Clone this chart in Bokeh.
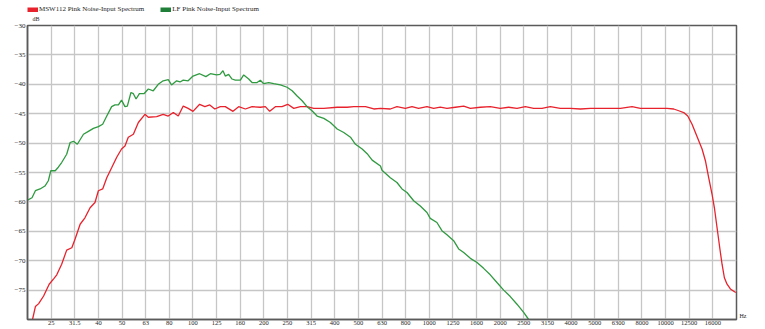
from bokeh.plotting import figure
from bokeh.layouts import column, row
from bokeh.models import Range1d, FixedTicker, Legend, LegendItem, Label
from bokeh.embed import file_html
from bokeh.resources import INLINE

# ---- data ----
series_names = ["MSW112 Pink Noise-Input Spectrum", "LF Pink Noise-Input Spectrum"]

red_freq = [21.0, 21.6, 22.3, 23.4, 24.7, 25.9, 26.6, 27.9, 29.3, 30.8, 31.8, 33.4, 35.0, 36.8,
            38.6, 39.9, 41.6, 43.3, 45.4, 47.7, 50.0, 51.7, 53.4, 56.1, 58.9, 62.8, 64.9, 70.4,
            75.0, 78.8, 82.8, 86.9, 91.2, 95.7, 100.3, 107, 112.6, 118.1, 124, 130.9, 137.4,
            148.1, 156.5, 167.1, 178.3, 193.3, 203, 211.8, 223.8, 238.8, 252.4, 267.8, 285.6,
            304.8, 325.4, 358.8, 408.6, 450.4, 480.6, 538.6, 584, 623, 685.8, 731.6, 793.8,
            847.2, 903.6, 980, 1046, 1116, 1191, 1292, 1402, 1496, 1648, 1816, 2003, 2172,
            2356, 2556, 2772, 3006, 3260, 3594, 3964, 4370, 4818, 5312, 5856, 6456, 7230,
            7842, 8646, 9528, 10168, 10850, 11392, 11962, 12438, 12972, 13400, 13842, 14300,
            14772, 15258, 15762, 16126, 16550, 16986, 17374, 17774, 18242, 18846, 19468, 19854]
red_db = [-80.0, -77.8, -77.3, -76.0, -74.0, -73.0, -72.4, -70.6, -68.2, -67.8, -66.3, -63.8,
          -62.7, -61.0, -60.1, -58.1, -57.8, -55.9, -54.2, -52.4, -51.0, -50.5, -49.0, -48.5,
          -46.5, -45.1, -45.6, -45.5, -45.1, -45.4, -44.8, -45.4, -43.7, -44.1, -44.6, -43.4,
          -43.8, -43.5, -44.2, -43.8, -43.8, -44.6, -43.8, -44.2, -43.8, -43.9, -43.8, -44.6,
          -43.8, -43.8, -43.4, -44.1, -43.8, -43.8, -44.1, -44.1, -43.9, -43.9, -43.8, -43.8,
          -44.2, -44.1, -44.2, -43.8, -44.1, -43.8, -44.1, -43.8, -44.1, -43.9, -44.1, -43.9,
          -43.7, -44.1, -43.9, -43.8, -44.1, -43.9, -44.1, -43.8, -44.1, -44.1, -43.8, -44.1,
          -44.1, -44.2, -44.1, -44.1, -44.1, -44.1, -43.8, -44.1, -44.1, -44.1, -44.1, -44.2,
          -44.5, -44.8, -45.4, -46.8, -48.2, -49.6, -51.0, -53.0, -55.9, -58.7, -61.0, -64.4,
          -67.8, -70.6, -72.9, -74.0, -74.8, -75.2, -75.4]

green_freq = [20.0, 20.9, 21.6, 22.6, 23.7, 24.5, 25.1, 26.2, 27.0, 27.9, 29.3, 30.3, 31.3, 32.5,
              34.5, 36.2, 38.0, 39.9, 41.6, 43.3, 45.4, 46.9, 48.5, 50.0, 51.7, 52.9, 54.8, 56.1,
              57.6, 59.5, 62.2, 64.9, 68.1, 71.5, 75.0, 78.8, 81.4, 85.5, 88.4, 91.2, 95.7,
              100.3, 107, 113.7, 118.8, 126.2, 130.4, 134.3, 137.4, 141.9, 146.7, 151.5, 159.1,
              164.4, 172.6, 178.3, 187.2, 193.3, 199.7, 209.7, 220.2, 235, 250.8, 263.5, 276.6,
              290.4, 304.8, 319.8, 336, 358.8, 382.6, 408.6, 435.8, 465.2, 488.4, 521.2, 547.2,
              574.6, 623, 632.5, 685.8, 731.6, 768.4, 806.8, 861, 918.4, 980, 1012, 1080, 1134,
              1191, 1271, 1335, 1402, 1496, 1596, 1702, 1816, 1938, 2070, 2208, 2356, 2514, 2640]
green_db = [-59.7, -59.3, -58.1, -57.8, -57.3, -56.4, -54.7, -54.7, -54.1, -53.3, -51.9, -49.9,
            -49.7, -50.2, -48.5, -48.0, -47.5, -47.2, -46.8, -45.4, -43.8, -43.5, -43.5, -42.7,
            -43.8, -43.7, -41.4, -41.6, -42.5, -41.6, -41.6, -40.8, -41.1, -40.0, -39.4, -39.2,
            -40.1, -39.4, -39.6, -39.3, -39.4, -38.6, -38.2, -38.7, -38.2, -38.4, -38.3, -37.7,
            -38.6, -38.3, -39.1, -39.3, -39.3, -38.4, -39.1, -39.7, -39.7, -39.3, -39.9, -39.7,
            -39.9, -40.1, -40.5, -41.1, -42.0, -42.8, -43.8, -44.5, -45.4, -45.8, -46.5, -47.6,
            -48.2, -49.0, -50.2, -51.0, -51.8, -52.9, -53.9, -54.6, -55.9, -56.7, -57.8, -58.4,
            -59.8, -60.7, -61.8, -62.8, -63.5, -64.9, -65.6, -66.6, -68.0, -68.6, -69.6, -70.3,
            -71.3, -72.4, -73.7, -75.0, -76.1, -77.4, -78.8, -80.0]

x_tick_labels = ["25", "31.5", "40", "50", "63", "80", "100", "125", "160", "200", "250", "315",
                 "400", "500", "630", "800", "1000", "1250", "1600", "2000", "2500", "3150",
                 "4000", "5000", "6300", "8000", "10000", "12500", "16000"]
y_ticks = [-75, -70, -65, -60, -55, -50, -45, -40, -35, -30]
x_unit, y_unit = "Hz", "dB"

# ---- styling ----
FONT = "Liberation Serif"
RED = "#e8222c"
GREEN = "#2f9a40"
GREEN_SW = "#1f7f38"
GRID = "#c6c6c6"
FRAME = "#5a5a5a"
TXT = "#1e1e1e"

# third-octave band centres for the grid (band k above 20 Hz)
x_ticks = [20 * 10 ** ((k + 1) / 10) for k in range(len(x_tick_labels))]

# ---------------- main chart ----------------
p = figure(width=738, height=308, x_axis_type="log",
           x_range=Range1d(20, 20000), y_range=Range1d(-80, -30),
           output_backend="svg", toolbar_location=None,
           min_border_left=27, min_border_right=2, min_border_top=4, min_border_bottom=10)
p.background_fill_color = "white"
p.border_fill_color = "white"
p.outline_line_color = FRAME
p.outline_line_width = 1.5

p.xaxis.ticker = FixedTicker(ticks=x_ticks)
p.xaxis.major_label_overrides = {t: lab for t, lab in zip(x_ticks, x_tick_labels)}
p.yaxis.ticker = FixedTicker(ticks=y_ticks)

for ax in (p.xaxis, p.yaxis):
    ax.axis_line_color = FRAME
    ax.axis_line_width = 1.5
    ax.major_tick_line_color = None
    ax.minor_tick_line_color = None
    ax.major_tick_out = 0
    ax.major_tick_in = 0
    ax.major_label_text_font = FONT
    ax.major_label_text_color = TXT
p.xaxis.major_label_text_font_size = "6.5px"
p.yaxis.major_label_text_font_size = "7px"
p.xaxis.major_label_standoff = 1
p.yaxis.major_label_standoff = 2

p.xgrid.grid_line_color = GRID
p.ygrid.grid_line_color = GRID
p.xgrid.grid_line_width = 1.3
p.ygrid.grid_line_width = 1.3

p.line(red_freq, red_db, line_color=RED, line_width=1.3)
p.line(green_freq, green_db, line_color=GREEN, line_width=1.3)

# ---------------- header strip: legend + unit of the y axis ----------------
head = figure(width=765, height=21, x_axis_type="log",
              x_range=Range1d(20, 20000), y_range=Range1d(-80, -30),
              x_axis_location=None, y_axis_location=None,
              output_backend="svg", toolbar_location=None, min_border=0)
head.outline_line_color = None
head.background_fill_color = "white"
head.border_fill_color = "white"
head.grid.grid_line_color = None

sw_red = head.line(red_freq, red_db, line_color=RED, line_width=5, visible=False)
sw_green = head.line(green_freq, green_db, line_color=GREEN_SW, line_width=5, visible=False)

legend = Legend(items=[LegendItem(label=series_names[0], renderers=[sw_red]),
                       LegendItem(label=series_names[1], renderers=[sw_green])],
                orientation="horizontal", location=(27, 8),
                glyph_width=11, glyph_height=5, label_standoff=1, spacing=16,
                padding=0, margin=0, border_line_color=None, background_fill_alpha=0,
                inactive_fill_alpha=0,
                label_text_font=FONT, label_text_font_size="7px", label_text_color=TXT,
                label_height=7, label_text_baseline="middle")
head.add_layout(legend)
head.add_layout(Label(x=32, y=0, x_units="screen", y_units="screen", text=y_unit,
                      text_baseline="bottom", text_align="left",
                      text_font=FONT, text_font_size="6px", text_color=TXT))

# ---------------- right strip: unit of the x axis ----------------
side = figure(width=27, height=308, x_range=Range1d(0, 1), y_range=Range1d(0, 1),
              x_axis_location=None, y_axis_location=None,
              output_backend="svg", toolbar_location=None, min_border=0)
side.outline_line_color = None
side.background_fill_color = "white"
side.border_fill_color = "white"
side.grid.grid_line_color = None
side.add_layout(Label(x=1, y=4, x_units="screen", y_units="screen", text=x_unit,
                      text_baseline="middle", text_align="left",
                      text_font=FONT, text_font_size="6px", text_color=TXT))

layout = column(head, row(p, side, spacing=0), spacing=0)

open("out.html", "w").write(file_html(layout, INLINE))
